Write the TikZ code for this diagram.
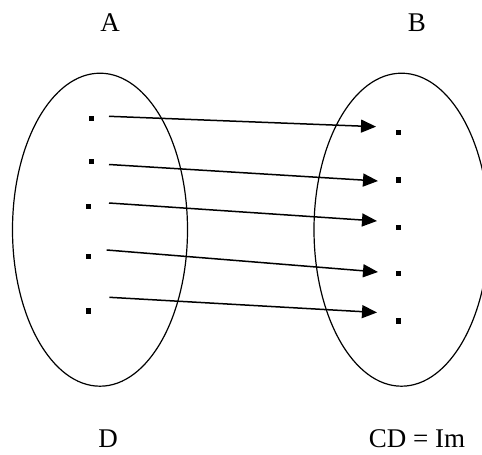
\documentclass[tikz,border=0pt]{standalone}
\usepackage{fontspec}
\setmainfont{Liberation Serif}
\usepackage{tikz}
\usetikzlibrary{arrows.meta,shapes.geometric}

\tikzset{
  setbox/.style={draw, ellipse, line width=0.6pt, minimum width=87.5pt, minimum height=156.5pt, inner sep=0pt},
  elem/.style={fill, rectangle, minimum size=2.6pt, inner sep=0pt},
  maparrow/.style={-{Triangle[length=7.5pt, width=6.5pt]}, line width=0.75pt}
}

\begin{document}
\begin{tikzpicture}[x=0.5pt, y=-0.5pt, font=\fontsize{13.5}{16}\selectfont]
\useasboundingbox (0,0) rectangle (482,455);
% the two sets
\node[setbox] (setA) at (100,229.7) {};
\node[setbox] (setB) at (401.5,229.7) {};
\node (labA) at (110,23) {A};
\node (labB) at (417,23) {B};
\node (labD) at (108,439) {D};
\node (labIm) at (417,439) {CD = Im};
% elements
\foreach \i/\ax/\ay/\by in {1/91.7/118.3/132.7,2/91.7/161.7/180,3/88.3/206.7/227.7,4/88.3/256.7/273.3,5/88.3/311/321} {
  \node[elem] (a\i) at (\ax,\ay) {};
  \node[elem] (b\i) at (398.3,\by) {}; }
% the mapping
\foreach \i/\sx/\sy/\ex/\ey in {1/109/116.3/376/126.7,2/109/164.5/378/181,3/109/203/377/221,4/106.7/250/378/272,5/109.3/297.3/377/312.5} {
  \coordinate (s\i) at (\sx,\sy);
  \coordinate (e\i) at (\ex,\ey);
  \draw[maparrow] (s\i) -- (e\i); }
\end{tikzpicture}
\end{document}
